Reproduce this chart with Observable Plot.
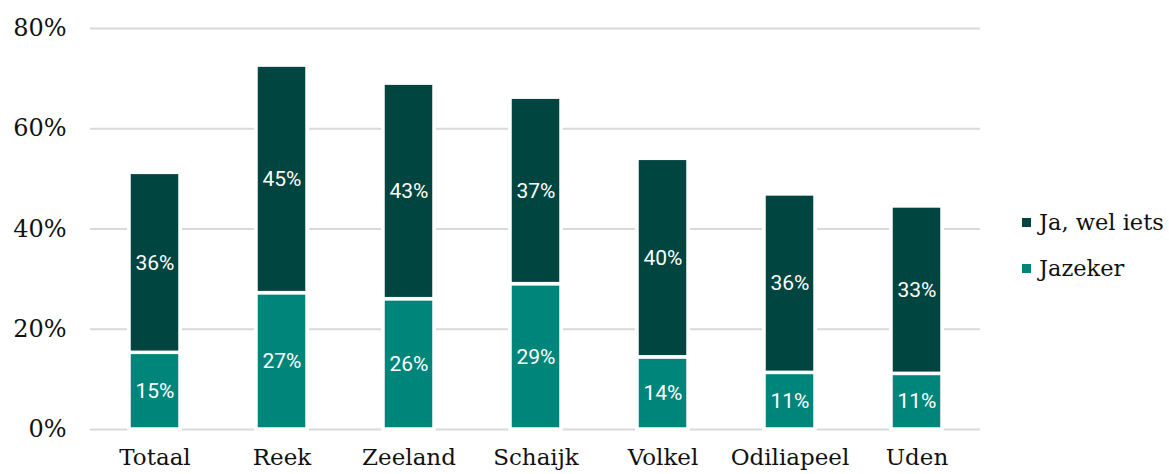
<!DOCTYPE html>
<html>
<head>
<meta charset="utf-8">
<script src="https://cdn.jsdelivr.net/npm/d3@7"></script>
<script src="https://cdn.jsdelivr.net/npm/@observablehq/plot@0.6"></script>
<style>
  body { margin: 0; background: #fff; }
  #wrap { position: relative; width: 1169px; height: 474px; }
  #legend { position: absolute; left: 1022px; top: 199px; font-family: "DejaVu Serif", serif; font-size: 22.5px; color: #111; }
  .item { display: flex; align-items: center; height: 46px; }
  .sw { width: 9px; height: 9px; margin-right: 8px; }
</style>
</head>
<body>
<div id="wrap"><div id="legend"></div></div>
<script>
const categories = ["Totaal", "Reek", "Zeeland", "Schaijk", "Volkel", "Odiliapeel", "Uden"];
const jazeker = [15.3, 27.2, 26.0, 29.0, 14.4, 11.3, 11.1];
const welIets = [35.9, 45.4, 43.0, 37.2, 39.6, 35.6, 33.4];
const seriesNames = ["Jazeker", "Ja, wel iets"];
const seriesColors = ["#00857b", "#004540"];
const yTicks = [0, 20, 40, 60, 80];

const data = [];
categories.forEach((c, i) => {
  data.push({cat: c, series: seriesNames[0], value: jazeker[i]});
  data.push({cat: c, series: seriesNames[1], value: welIets[i]});
});
const totals = categories.map((c, i) => ({cat: c, total: jazeker[i] + welIets[i]}));

const chart = Plot.plot({
  width: 1169,
  height: 474,
  marginLeft: 90,
  marginRight: 189,
  marginTop: 28,
  marginBottom: 45,
  style: {fontFamily: "DejaVu Serif, serif", fontSize: "23px", color: "#111", background: "#fff"},
  x: {domain: categories, paddingInner: 0.6, paddingOuter: 0.3, label: null},
  y: {domain: [0, 80], label: null},
  color: {domain: seriesNames, range: seriesColors},
  marks: [
    Plot.ruleY(yTicks, {stroke: "#d9d9d9", strokeWidth: 2}),
    Plot.barY(totals, {x: "cat", y: "total", fill: "white", insetLeft: -2, insetRight: -2}),
    Plot.barY(data, Plot.stackY({x: "cat", y: "value", z: "series", fill: "series", order: seriesNames, stroke: "white", strokeWidth: 3.5})),
    Plot.text(data, Plot.stackY({x: "cat", y: "value", z: "series", order: seriesNames, text: d => Math.round(d.value) + "%", fill: "white", fontFamily: "Roboto, sans-serif", fontSize: 21})),
    Plot.axisX({tickSize: 0, tickPadding: 19, fontSize: 23, label: null}),
    Plot.axisY({ticks: yTicks, tickFormat: d => d + "%", tickSize: 0, tickPadding: 24, fontSize: 24, label: null})
  ]
});
document.getElementById("wrap").prepend(chart);

const legend = document.getElementById("legend");
[1, 0].forEach(i => {
  const it = document.createElement("div");
  it.className = "item";
  const sw = document.createElement("span");
  sw.className = "sw";
  sw.style.background = seriesColors[i];
  const t = document.createElement("span");
  t.textContent = seriesNames[i];
  it.appendChild(sw); it.appendChild(t);
  legend.appendChild(it);
});
</script>
</body>
</html>
